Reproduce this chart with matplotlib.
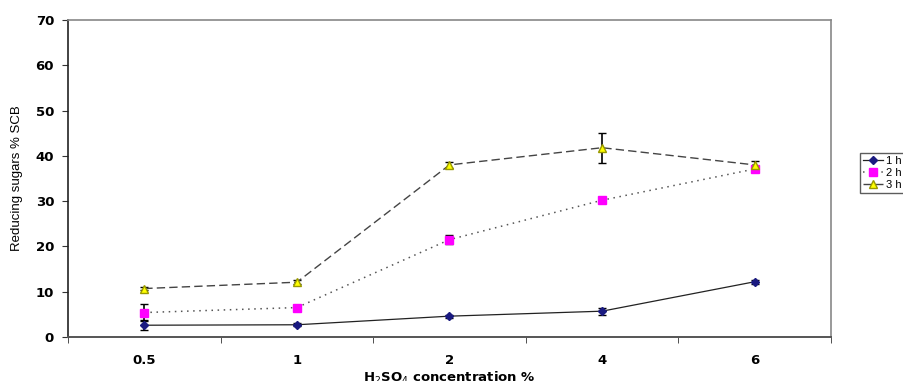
import numpy as np
import matplotlib.pyplot as plt
from matplotlib.ticker import FixedLocator
from matplotlib.lines import Line2D

plt.rcParams['font.family'] = ['Liberation Sans', 'DejaVu Sans']

# data
conc = ["0.5", "1", "2", "4", "6"]
h1 = [2.6, 2.7, 4.6, 5.7, 12.2]
h1_err = [1.1, 0.3, 0.3, 0.8, 0.4]
h2 = [5.4, 6.5, 21.5, 30.2, 37.1]
h2_err = [1.9, 0.4, 1.0, 0.3, 0.4]
h3 = [10.7, 12.1, 38.0, 41.8, 38.0]
h3_err = [0.4, 0.4, 0.6, 3.3, 0.8]
labels = ["1 h", "2 h", "3 h"]

styles = [
    dict(color="#222222", lw=0.9, ls="-", marker="D", ms=4, mfc="#1a1a80", mec="#1a1a80"),
    dict(color="#555555", lw=1.1, ls=(0, (1, 3)), marker="s", ms=6, mfc="#ff00ff", mec="#ff00ff"),
    dict(color="#444444", lw=1.0, ls=(0, (6, 3)), marker="^", ms=6, mfc="#ffff00", mec="#999900"),
]

fig = plt.figure(figsize=(9.04, 3.81), dpi=100)
ax = fig.add_axes([0.0752, 0.1155, 0.844, 0.832])
x = np.arange(len(conc))

for vals, errs, st in zip([h1, h2, h3], [h1_err, h2_err, h3_err], styles):
    ax.errorbar(x, vals, yerr=errs, ecolor="black", elinewidth=1.2, capsize=3,
                zorder=3, **st)

bold = dict(family="DejaVu Sans", fontweight="bold", fontsize=9.5)

ax.set_xlim(-0.5, len(conc) - 0.5)
ax.set_ylim(0, 70)
ax.set_yticks(np.arange(0, 71, 10))
ax.set_yticklabels([str(v) for v in range(0, 71, 10)], **bold)
ax.set_xticks(x)
ax.set_xticklabels(conc, **bold)
ax.tick_params(axis="x", which="major", length=0, pad=12)
ax.xaxis.set_minor_locator(FixedLocator(np.arange(-0.5, len(conc), 1.0)))
ax.tick_params(axis="x", which="minor", length=4, direction="out", color="#333333")
ax.tick_params(axis="y", length=4, direction="out", pad=6, color="#333333")

for s in ["top", "right"]:
    ax.spines[s].set_color("#888888")
    ax.spines[s].set_linewidth(1.2)
ax.spines["left"].set_color("#222222")
ax.spines["bottom"].set_color("#555555")
ax.spines["left"].set_linewidth(1.2)
ax.spines["bottom"].set_linewidth(1.4)

ax.set_ylabel("Reducing sugars % SCB", fontsize=9.5, labelpad=9)
ax.set_xlabel("H$_2$SO$_4$ concentration %", labelpad=2, **bold)

handles = [Line2D([], [], **st) for st in styles]
leg = fig.legend(handles, labels, loc="upper left",
                 bbox_to_anchor=(860 / 904, (381 - 153) / 381),
                 fontsize=8, frameon=True, fancybox=False, borderpad=0.25,
                 borderaxespad=0, handlelength=1.8, handletextpad=0.3,
                 labelspacing=0.2)
leg.get_frame().set_edgecolor("#333333")
leg.get_frame().set_linewidth(1.0)

fig.savefig("out.png", dpi=100)
